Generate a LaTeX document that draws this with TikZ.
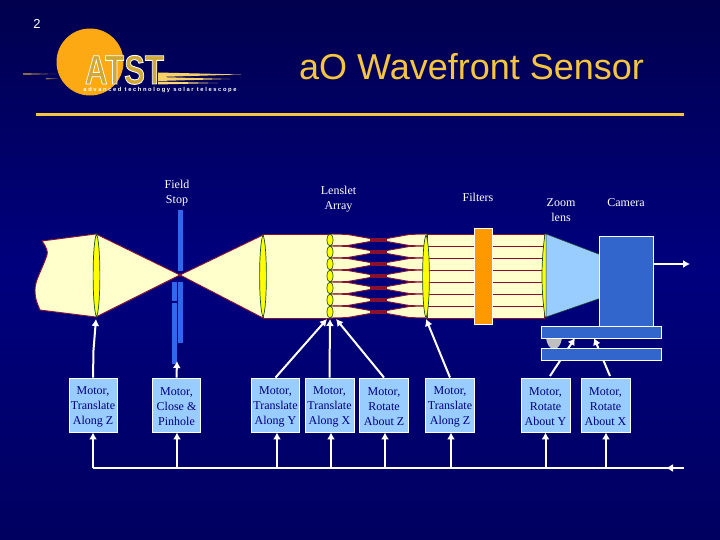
\documentclass[tikz,border=0pt]{standalone}
\usepackage{fontspec}
\setmainfont{Liberation Serif}
\newfontfamily\arialf{Liberation Sans}
\usetikzlibrary{arrows.meta}
\definecolor{bgtop}{HTML}{00004E}
\definecolor{bgmid}{HTML}{00007E}
\definecolor{bgbot}{HTML}{000060}
\definecolor{gold}{HTML}{F5C540}
\definecolor{sun}{HTML}{FCA914}
\definecolor{beam}{HTML}{FFFFCC}
\definecolor{edge}{HTML}{8A1030}
\definecolor{lensy}{HTML}{FFFF00}
\definecolor{lensg}{HTML}{1F4A2A}
\definecolor{stopb}{HTML}{3366EE}
\definecolor{plate}{HTML}{3366CC}
\definecolor{pale}{HTML}{99CCFF}
\definecolor{ink}{HTML}{000080}
\definecolor{filt}{HTML}{FF9900}
\newcommand{\mtop}{\rule{0pt}{11.5pt}}
\tikzset{
  motor/.style={draw=white,line width=0.9pt,fill=pale,text=ink,minimum height=54pt,inner sep=0pt,align=center,font=\fontsize{12}{15}\selectfont},
  lab/.style={text=white,align=center,inner sep=0pt,font=\fontsize{12}{15}\selectfont},
  wire/.style={white,line width=1.5pt},
  warrow/.style={white,line width=2pt,-{Latex[length=7pt,width=8pt]}},
  ray/.style={draw=edge,line width=0.9pt,fill=beam},
  glass/.style={draw=lensg,line width=0.7pt,fill=lensy},
  stopbar/.style={fill=stopb,draw=none},
  plateb/.style={draw=white,line width=0.9pt,fill=plate},
}
\newcommand{\lensat}[4]{% x, ytop, ybot, half width
  \path[glass] (#1,#2) .. controls (#1-#4,#2+9) and (#1-#4,#3-9) .. (#1,#3)
     .. controls (#1+#4,#3-9) and (#1+#4,#2+9) .. (#1,#2) -- cycle;}
\begin{document}
\begin{tikzpicture}[x=1pt,y=-1pt]
\useasboundingbox (0,0) rectangle (720,540);
\shade[top color=bgtop,bottom color=bgbot,middle color=bgmid] (0,0) rectangle (720,540);

% page number, title, rule
\node[text=white,inner sep=0pt,font=\arialf\fontsize{13}{15}\selectfont] (pagenum) at (37,24) {2};
\node[text=gold,inner sep=0pt,anchor=base,font=\arialf\fontsize{36}{40}\selectfont] (title) at (471.5,80) {aO Wavefront Sensor};
\fill[gold] (36,113) rectangle (684,116);

% logo
\fill[sun] (90,62) circle (33.5);
\fill[gold!80!white] (158,72.5) -- (241,74.5) -- (158,77) -- cycle;
\fill[gold!80!white] (158,77) -- (230,79) -- (158,81) -- cycle;
\fill[gold!70!white] (158,81.5) -- (218,83) -- (158,84.5) -- cycle;
\fill[gold!55!bgtop] (23,73) -- (56,74) -- (23,75) -- cycle;
\fill[gold!55!bgtop] (46,78) -- (58,78.7) -- (46,79.4) -- cycle;
\node[text=gold!85!black,inner sep=0pt,anchor=base,xscale=0.76,font=\arialf\bfseries\fontsize{41}{41}\selectfont] (logoa) at (124.5,84)
  {\special{pdf:code 2 Tr 0.9 w 1 1 1 RG}ATST\special{pdf:code 0 Tr}};
\node[text=white,inner sep=0pt,font=\arialf\bfseries\fontsize{5.8}{6}\selectfont] (logob) at (160,90.5) {a d v a n c e d\ \ t e c h n o l o g y\ \ s o l a r\ \ t e l e s c o p e};

% field stop blades
\fill[stopbar] (178,210) rectangle (183,271);

% input beam
\path[ray] (42,241) .. controls (47,248) and (48,252) .. (47,255)
  .. controls (42,270) and (35,280) .. (35,290) .. controls (35,300) and (38,305) .. (40,310)
  -- (96,317) -- (180,275) -- (96,234) -- cycle;
\path[ray] (180,275) -- (263,235) -- (263,318) -- cycle;
\fill[edge] (180,275) circle (1.8);
\path[ray] (263,234.5) rectangle (331,318);

\fill[stopbar] (178,282) rectangle (183,343);
\fill[stopbar] (172,282) rectangle (177,301);
\fill[stopbar] (172,303) rectangle (177,364);

% lenslet channels
\foreach \yc in {240,252,264,276,288,300,312}{
  \path[ray] (331,\yc-6) -- (347,\yc-5.6) -- (370,\yc-1.5) -- (387,\yc-1.5) -- (410,\yc-5.6) -- (427,\yc-6)
    -- (427,\yc+6) -- (410,\yc+5.6) -- (387,\yc+1.5) -- (370,\yc+1.5) -- (347,\yc+5.6) -- (331,\yc+6) -- cycle;
  \draw[edge,line width=2.4pt] (370,\yc) -- (387,\yc);
}
\path[ray] (427,234.5) rectangle (544,318);
\foreach \yc in {246,258,270,282,294,306}{
  \draw[edge,line width=1pt] (427,\yc) -- (544,\yc);
}

% lenses
\lensat{96.5}{234}{317}{4.5}
\lensat{263}{235}{317}{4.5}
\foreach \yc in {240,252,264,276,288,300,312}{
  \path[glass] (330,\yc) ellipse (3 and 6);
}
\lensat{426}{235}{318}{4.5}
\path[glass] (545,234) .. controls (541,262) and (541,290) .. (545,317) -- (547,317) -- (547,234) -- cycle;

% filter
\path[draw=white,line width=0.8pt,fill=filt] (474.5,228.5) rectangle (492.5,324.5);

% zoom cone
\path[fill=pale,draw=lensg,line width=0.5pt] (546,234) -- (601,255) -- (601,298) -- (546,317) -- cycle;

% motor boxes
\node[motor,minimum width=48pt] (m1) at (93,405) {\mtop Motor,\\Translate\\Along Z};
\node[motor,minimum width=48pt] (m2) at (176.5,405) {\mtop Motor,\\Close \&\\Pinhole};
\node[motor,minimum width=48pt] (m3) at (275.5,405) {\mtop Motor,\\Translate\\Along Y};
\node[motor,minimum width=49pt] (m4) at (329.5,405) {\mtop Motor,\\Translate\\Along X};
\node[motor,minimum width=49pt] (m5) at (384,405) {\mtop Motor,\\Rotate\\About Z};
\node[motor,minimum width=49pt] (m6) at (450,405) {\mtop Motor,\\Translate\\Along Z};
\node[motor,minimum width=49pt] (m7) at (545.5,405) {\mtop Motor,\\Rotate\\About Y};
\node[motor,minimum width=49pt] (m8) at (605.5,405) {\mtop Motor,\\Rotate\\About X};

% targets
\coordinate (t1) at (96,319);
\coordinate (t2) at (177,361);
\coordinate (t3) at (327,319);
\coordinate (t4) at (330,319);
\coordinate (t5) at (336,319);
\coordinate (t6) at (426,319);
\coordinate (t7) at (575,338);
\coordinate (t8) at (594,338);
\coordinate (busl) at (93,468);
\coordinate (busr) at (684,468);
\coordinate (bust) at (666,468);
\coordinate (out) at (690,264);
\coordinate (b1) at (93,468);
\coordinate (b2) at (177,468);
\coordinate (b3) at (277,468);
\coordinate (b4) at (331,468);
\coordinate (b5) at (385,468);
\coordinate (b6) at (451,468);
\coordinate (b7) at (545.5,468);
\coordinate (b8) at (606,468);

% connectors up to the optics
\draw[warrow] (m1.north) -- (93.5,350) -- (t1);
\draw[warrow] (m2.north) -- (t2);
\draw[warrow] (m3.north) -- (t3);
\draw[warrow] (m4.north) -- (t4);
\draw[warrow] (m5.north) -- (t5);
\draw[warrow] (m6.north) -- (t6);
\draw[warrow] (550,376) -- (t7);
\draw[warrow] (610,376) -- (t8);

% camera and stage
\path[fill=lightgray] (546,338) -- (562,338) .. controls (561,345) and (558,349) .. (554,349) .. controls (550,349) and (547,345) .. (546,338) -- cycle;
\node[plateb,minimum width=120pt,minimum height=12pt,inner sep=0pt] (stage1) at (601,332) {};
\node[plateb,minimum width=120pt,minimum height=12.5pt,inner sep=0pt] (stage2) at (601,354.5) {};
\node[plateb,minimum width=54pt,minimum height=90pt,inner sep=0pt] (cam) at (626,281) {};
\draw[warrow] (cam.east |- out) -- (out);

% bus
\draw[wire] (busl) -- (busr);
\draw[white,line width=1.5pt,-{Latex[length=7pt,width=8pt]}] (busr) -- (bust);
\foreach \i in {1,...,8}{
  \draw[warrow] (b\i) -- (b\i |- m\i.south);
}

% labels
\node[lab] (l1) at (177,193) {Field\\Stop};
\node[lab] (l2) at (338.5,199) {Lenslet\\Array};
\node[lab] (l3) at (478,197) {Filters};
\node[lab] (l4) at (561,210.5) {Zoom\\lens};
\node[lab] (l5) at (626,203) {Camera};
\end{tikzpicture}
\end{document}
